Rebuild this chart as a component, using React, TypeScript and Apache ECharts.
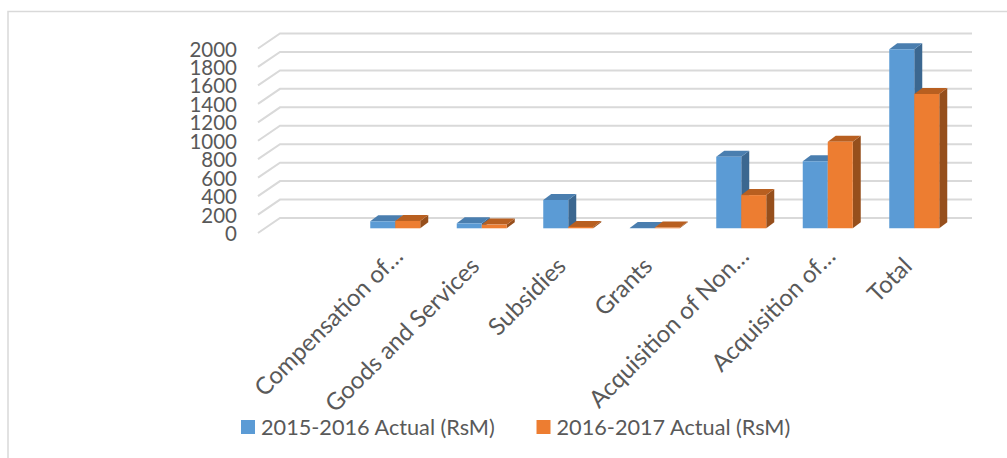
import React, { useEffect, useRef } from "react";
import * as echarts from "echarts";

const categories = ["", "Compensation of…", "Goods and Services", "Subsidies", "Grants", "Acquisition of Non…", "Acquisition of…", "Total"];
const actual2015 = [null, 76, 54, 307, 4, 776, 726, 1940];
const actual2016 = [null, 80, 40, 15, 8, 360, 939, 1455];
const yTicks = [0, 200, 400, 600, 800, 1000, 1200, 1400, 1600, 1800, 2000];
const seriesNames = ["2015-2016 Actual (RsM)", "2016-2017 Actual (RsM)"];

const FONT = "Lato";
const TEXT = "#595959";
const GRID = "#d9d9d9";
const DX = 8;
const DY = 6;
const WALL_X = 22;
const WALL_Y = 15;
const BAR_W = 25;
const SHIFT_X = 7.5;
const SHIFT_Y = 4.7;

const palette = [
  { face: "#5b9bd5", top: "#4a7eaf", side: "#3b6790" },
  { face: "#ed7d31", top: "#b85f20", side: "#964f1c" },
];

function barRenderer(k: number) {
  return (_p: any, api: any) => {
    const c = api.value(0);
    const v = api.value(1);
    if (v == null || isNaN(v)) return null;
    const base = api.coord([c, 0]);
    const topPt = api.coord([c, v]);
    const x0 = base[0] + SHIFT_X + (k === 0 ? -BAR_W : 0);
    const x1 = x0 + BAR_W;
    const yb = base[1] - SHIFT_Y;
    const yt = topPt[1] - SHIFT_Y;
    const col = palette[k];
    return {
      type: "group",
      children: [
        {
          type: "polygon",
          shape: { points: [[x1, yb], [x1 + DX, yb - DY], [x1 + DX, yt - DY], [x1, yt]] },
          style: { fill: col.side },
        },
        {
          type: "polygon",
          shape: { points: [[x0, yt], [x0 + DX, yt - DY], [x1 + DX, yt - DY], [x1, yt]] },
          style: { fill: col.top },
        },
        { type: "rect", shape: { x: x0, y: yt, width: BAR_W, height: yb - yt }, style: { fill: col.face } },
      ],
    };
  };
}

function wallRenderer(p: any, api: any) {
  const y = api.coord([0, api.value(0)])[1];
  const cs = p.coordSys;
  return {
    type: "polyline",
    shape: {
      points: [
        [cs.x, y],
        [cs.x + WALL_X, y - WALL_Y],
        [cs.x + cs.width + WALL_X, y - WALL_Y],
      ],
    },
    style: { stroke: GRID, lineWidth: 2, fill: "none" },
  };
}

const yLabelStyle = {
  fontFamily: FONT,
  fontSize: 20.5,
  lineHeight: 14,
  color: TEXT,
  margin: 21,
  hideOverlap: false,
  formatter: (v: number) => String(v),
};

export default function App() {
  const ref = useRef<HTMLDivElement>(null);
  useEffect(() => {
    document.body.style.margin = "0";
    const chart = echarts.init(ref.current!, undefined, { renderer: "svg" });
    chart.setOption({
      animation: false,
      backgroundColor: "#ffffff",
      textStyle: { fontFamily: FONT },
      grid: { left: 258, top: 48.5, width: 692, height: 184.5 },
      legend: {
        left: 236,
        top: 411,
        itemWidth: 14,
        itemHeight: 14,
        itemGap: 41,
        icon: "rect",
        selectedMode: false,
        textStyle: { fontFamily: FONT, fontSize: 21.7, color: TEXT, padding: [0, 0, 0, 1] },
        data: [
          { name: seriesNames[0], itemStyle: { color: palette[0].face } },
          { name: seriesNames[1], itemStyle: { color: palette[1].face } },
        ],
      },
      xAxis: {
        type: "category",
        data: categories.map((c) => ({
          value: c,
          textStyle: { padding: c.endsWith("…") ? [0, -14, 0, 0] : [0, 0, 0, 0] },
        })),
        axisLine: { show: false },
        axisTick: { show: false },
        axisLabel: {
          interval: 0,
          rotate: 45,
          fontFamily: FONT,
          fontSize: 24,
          color: TEXT,
          margin: 28,
          hideOverlap: false,
        },
      },
      yAxis: [
        {
          type: "value",
          position: "left",
          min: 0,
          max: 2000,
          interval: 200,
          splitLine: { show: false },
          axisLine: { show: false },
          axisTick: { show: false },
          axisLabel: { ...yLabelStyle, showMinLabel: false, showMaxLabel: false },
        },
        {
          type: "value",
          position: "left",
          min: 0,
          max: 2000,
          interval: 2000,
          splitLine: { show: false },
          axisLine: { show: false },
          axisTick: { show: false },
          axisLabel: { ...yLabelStyle, showMinLabel: true, showMaxLabel: true },
        },
      ],
      graphic: [
        {
          type: "polyline",
          shape: { points: [[8, 458], [8, 11.5], [1007, 11.5]] },
          style: { stroke: GRID, lineWidth: 1.5, fill: "none" },
        },
      ],
      series: [
        {
          type: "custom",
          name: "wall",
          renderItem: wallRenderer,
          data: yTicks.map((v) => [v]),
          encode: { y: 0 },
          silent: true,
          z: 1,
        },
        {
          type: "custom",
          name: seriesNames[0],
          renderItem: barRenderer(0),
          data: actual2015.map((v, i) => [i, v]),
          encode: { x: 0, y: 1 },
          itemStyle: { color: palette[0].face },
          z: 2,
        },
        {
          type: "custom",
          name: seriesNames[1],
          renderItem: barRenderer(1),
          data: actual2016.map((v, i) => [i, v]),
          encode: { x: 0, y: 1 },
          itemStyle: { color: palette[1].face },
          z: 3,
        },
      ],
    });
    return () => chart.dispose();
  }, []);
  return <div ref={ref} style={{ width: 1007, height: 458 }} />;
}
